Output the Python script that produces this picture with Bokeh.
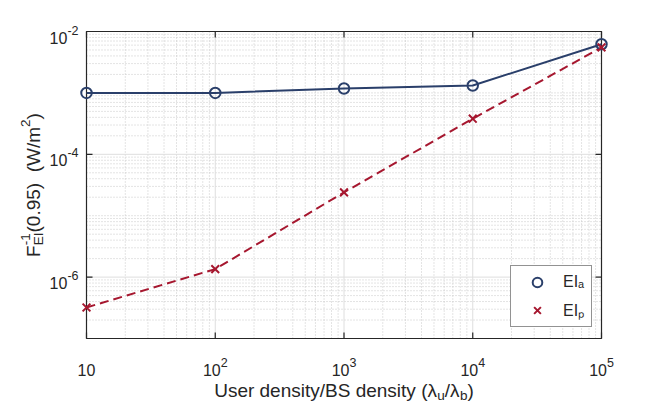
import math
from bokeh.plotting import figure
from bokeh.models import Range1d, Label, Legend, LegendItem
from bokeh.embed import file_html
from bokeh.resources import INLINE

# ---------------- data ----------------
density_ratio = [10, 100, 1000, 10000, 100000]
ei_a = [1.0e-3, 1.0e-3, 1.18e-3, 1.32e-3, 6.2e-3]
ei_p = [3.2e-7, 1.35e-6, 2.4e-5, 3.8e-4, 5.5e-3]

x_tick_values = [10, 100, 1000, 10000, 100000]
x_tick_exponents = ["", "2", "3", "4", "5"]
y_tick_values = [1e-6, 1e-4, 1e-2]
y_tick_exponents = ["-6", "-4", "-2"]

legend_labels = ["EIₐ", "EIₚ"]

# ---------------- layout / styles ----------------
W, H = 656, 407                    # canvas
PL, PR, PT, PB = 86, 601, 31, 338  # plot box in canvas pixels
FONT = "Liberation Sans"
NAVY = "#2a3f6a"
CRIMSON = "#a6172f"
AXC = "#262626"
TXT = "#262626"

xmin, xmax = 10, 1e5
ymin, ymax = 1e-7, 1e-2

lx0, lx1 = math.log10(xmin), math.log10(xmax)
ly0, ly1 = math.log10(ymin), math.log10(ymax)
xppd = (PR - PL) / (lx1 - lx0)
yppd = (PB - PT) / (ly1 - ly0)
x_range = Range1d(10 ** (lx0 - PL / xppd), 10 ** (lx1 + (W - PR) / xppd))
y_range = Range1d(10 ** (ly0 - (H - PB) / yppd), 10 ** (ly1 + PT / yppd))

# approximate Arial/Liberation Sans advance widths (per 1000 em)
WID = {" ": 278, "(": 333, ")": 333, "-": 333, ".": 278, "/": 278,
       "B": 667, "E": 667, "F": 611, "I": 278, "S": 667, "U": 722, "W": 944,
       "a": 556, "b": 556, "d": 556, "e": 556, "i": 222, "m": 833, "n": 556,
       "p": 556, "r": 333, "s": 500, "t": 278, "u": 556, "y": 500, "λ": 520}
for c in "0123456789":
    WID[c] = 556


def tw(s, size):
    return sum(WID.get(c, 556) for c in s) * size / 1000.0


p = figure(width=W, height=H, x_axis_type="log", y_axis_type="log",
           x_range=x_range, y_range=y_range,
           output_backend="svg", toolbar_location=None,
           min_border=0)
p.xaxis.visible = False
p.yaxis.visible = False
p.xgrid.visible = False
p.ygrid.visible = False
p.outline_line_color = None
p.background_fill_color = "white"
p.border_fill_color = "white"

x_minor = [k * 10 ** n for n in range(1, 5) for k in range(2, 10)]
y_minor = [k * 10.0 ** n for n in range(-7, -2) for k in range(1, 10)
           if not any(abs(k * 10.0 ** n - t) / t < 1e-9 for t in y_tick_values)
           and k * 10.0 ** n > ymin * 1.0001]

# ---------------- grid ----------------
MINOR_C, MAJOR_C = "#c8c8c8", "#dedede"
p.segment(x0=x_minor, y0=[ymin] * len(x_minor), x1=x_minor, y1=[ymax] * len(x_minor),
          line_color=MINOR_C, line_width=1, line_dash="1 2")
p.segment(x0=[xmin] * len(y_minor), y0=y_minor, x1=[xmax] * len(y_minor), y1=y_minor,
          line_color=MINOR_C, line_width=1, line_dash="1 2")
p.segment(x0=x_tick_values, y0=[ymin] * 5, x1=x_tick_values, y1=[ymax] * 5,
          line_color=MAJOR_C, line_width=1)
p.segment(x0=[xmin] * 3, y0=y_tick_values, x1=[xmax] * 3, y1=y_tick_values,
          line_color=MAJOR_C, line_width=1)

# ---------------- plot box + ticks ----------------
p.quad(left=[xmin], right=[xmax], bottom=[ymin], top=[ymax], fill_color=None,
       line_color=AXC, line_width=1.2)
TICK = 6
p.ray(x=x_tick_values, y=[ymin] * 5, length=TICK, length_units="screen",
      angle=math.pi / 2, line_color=AXC, line_width=1.2)
p.ray(x=x_tick_values, y=[ymax] * 5, length=TICK, length_units="screen",
      angle=-math.pi / 2, line_color=AXC, line_width=1.2)
p.ray(x=[xmin] * 3, y=y_tick_values, length=TICK, length_units="screen",
      angle=0, line_color=AXC, line_width=1.2)
p.ray(x=[xmax] * 3, y=y_tick_values, length=TICK, length_units="screen",
      angle=math.pi, line_color=AXC, line_width=1.2)

# ---------------- series ----------------
p.line(density_ratio, ei_a, line_color=NAVY, line_width=2)
p.line(density_ratio, ei_p, line_color=CRIMSON, line_width=2, line_dash="9 5")
r_a = p.scatter(density_ratio, ei_a, marker="circle", size=10.5, fill_color=None,
                line_color=NAVY, line_width=2)
r_p = p.scatter(density_ratio, ei_p, marker="x", size=11, line_color=CRIMSON,
                line_width=2)

# ---------------- legend ----------------
LEG_L, LEG_R, LEG_T, LEG_B = 510, 590, 267, 327
LEG_PAD, LEG_GW, LEG_GH, LEG_STAND, LEG_SP = 4, 44, 24, 4, 4
LEG_LW = (LEG_R - LEG_L) - 2 * LEG_PAD - LEG_GW - LEG_STAND
LEG_FS = 16
legend = Legend(items=[LegendItem(label=legend_labels[0], renderers=[r_a]),
                       LegendItem(label=legend_labels[1], renderers=[r_p])],
                location=(LEG_L, H - LEG_B), margin=0, padding=LEG_PAD,
                spacing=LEG_SP, glyph_width=LEG_GW, glyph_height=LEG_GH,
                label_height=LEG_GH, label_width=LEG_LW, label_standoff=LEG_STAND,
                border_line_color=AXC, border_line_width=1,
                background_fill_color="white", background_fill_alpha=1.0,
                label_text_font=FONT, label_text_font_size=f"{LEG_FS}px",
                label_text_color=TXT)
p.add_layout(legend)


def lab(x, y, dx, dy, text, size, angle=0.0):
    p.add_layout(Label(x=x, y=y, x_offset=dx, y_offset=dy, text=text,
                       angle=angle, text_font=FONT, text_font_size=f"{size}px",
                       text_color=TXT, text_align="left",
                       text_baseline="alphabetic", level="overlay"))


# ---------------- tick labels ----------------
TFS, EFS, ERAISE = 16, 12.5, 7.5
XT_BASE = 369
for v, e in zip(x_tick_values, x_tick_exponents):
    wb = tw("10", TFS)
    we = tw(e, EFS)
    x0 = -(wb + we) / 2
    lab(v, ymin, x0, -(XT_BASE - PB), "10", TFS)
    if e:
        lab(v, ymin, x0 + wb, -(XT_BASE - PB) + ERAISE, e, EFS)

for v, e in zip(y_tick_values, y_tick_exponents):
    wb = tw("10", TFS)
    we = tw(e, EFS)
    x0 = -8 - (wb + we)
    lab(xmin, v, x0, -6, "10", TFS)
    lab(xmin, v, x0 + wb, -6 + ERAISE, e, EFS)

# ---------------- x axis label ----------------
MFS, SFS = 19, 13.5
XL_BASE = 390
xl_pieces = [("User density/BS density (λ", MFS, 0), ("u", SFS, -5), ("/λ", MFS, 0),
             ("b", SFS, -5), (")", MFS, 0)]
total = sum(tw(s, f) for s, f, _ in xl_pieces)
cur = -total / 2
xmid = 10 ** ((lx0 + lx1) / 2)
for s, f, dy in xl_pieces:
    lab(xmid, ymin, cur, -(XL_BASE - PB) + dy, s, f)
    cur += tw(s, f)

# ---------------- y axis label (rotated) ----------------
YFS, YSFS = 19, 13.5
YL_BASE = 33   # x pixel of the label baseline
w_f = tw("F", YFS)
w_mid = max(tw("-1", YSFS), tw("EI", YSFS))
w_a = tw("(0.95)", YFS)
w_gap = tw("  ", YFS)
w_b = tw("(W/m", YFS)
w_2 = tw("2", YSFS)
w_c = tw(")", YFS)
yl_total = w_f + w_mid + w_a + w_gap + w_b + w_2 + w_c
t = -yl_total / 2
pieces = []
pieces.append(("F", YFS, t, 0)); t += w_f
pieces.append(("-1", YSFS, t, 8)); pieces.append(("EI", YSFS, t, -4.5)); t += w_mid
pieces.append(("(0.95)", YFS, t, 0)); t += w_a + w_gap
pieces.append(("(W/m", YFS, t, 0)); t += w_b
pieces.append(("2", YSFS, t, 8)); t += w_2
pieces.append((")", YFS, t, 0))
ymid = 10 ** ((ly0 + ly1) / 2)
for s, f, along, raise_ in pieces:
    lab(xmin, ymid, -(PL - YL_BASE) - raise_, along, s, f, angle=math.pi / 2)

open("out.html", "w").write(file_html(p, INLINE))
